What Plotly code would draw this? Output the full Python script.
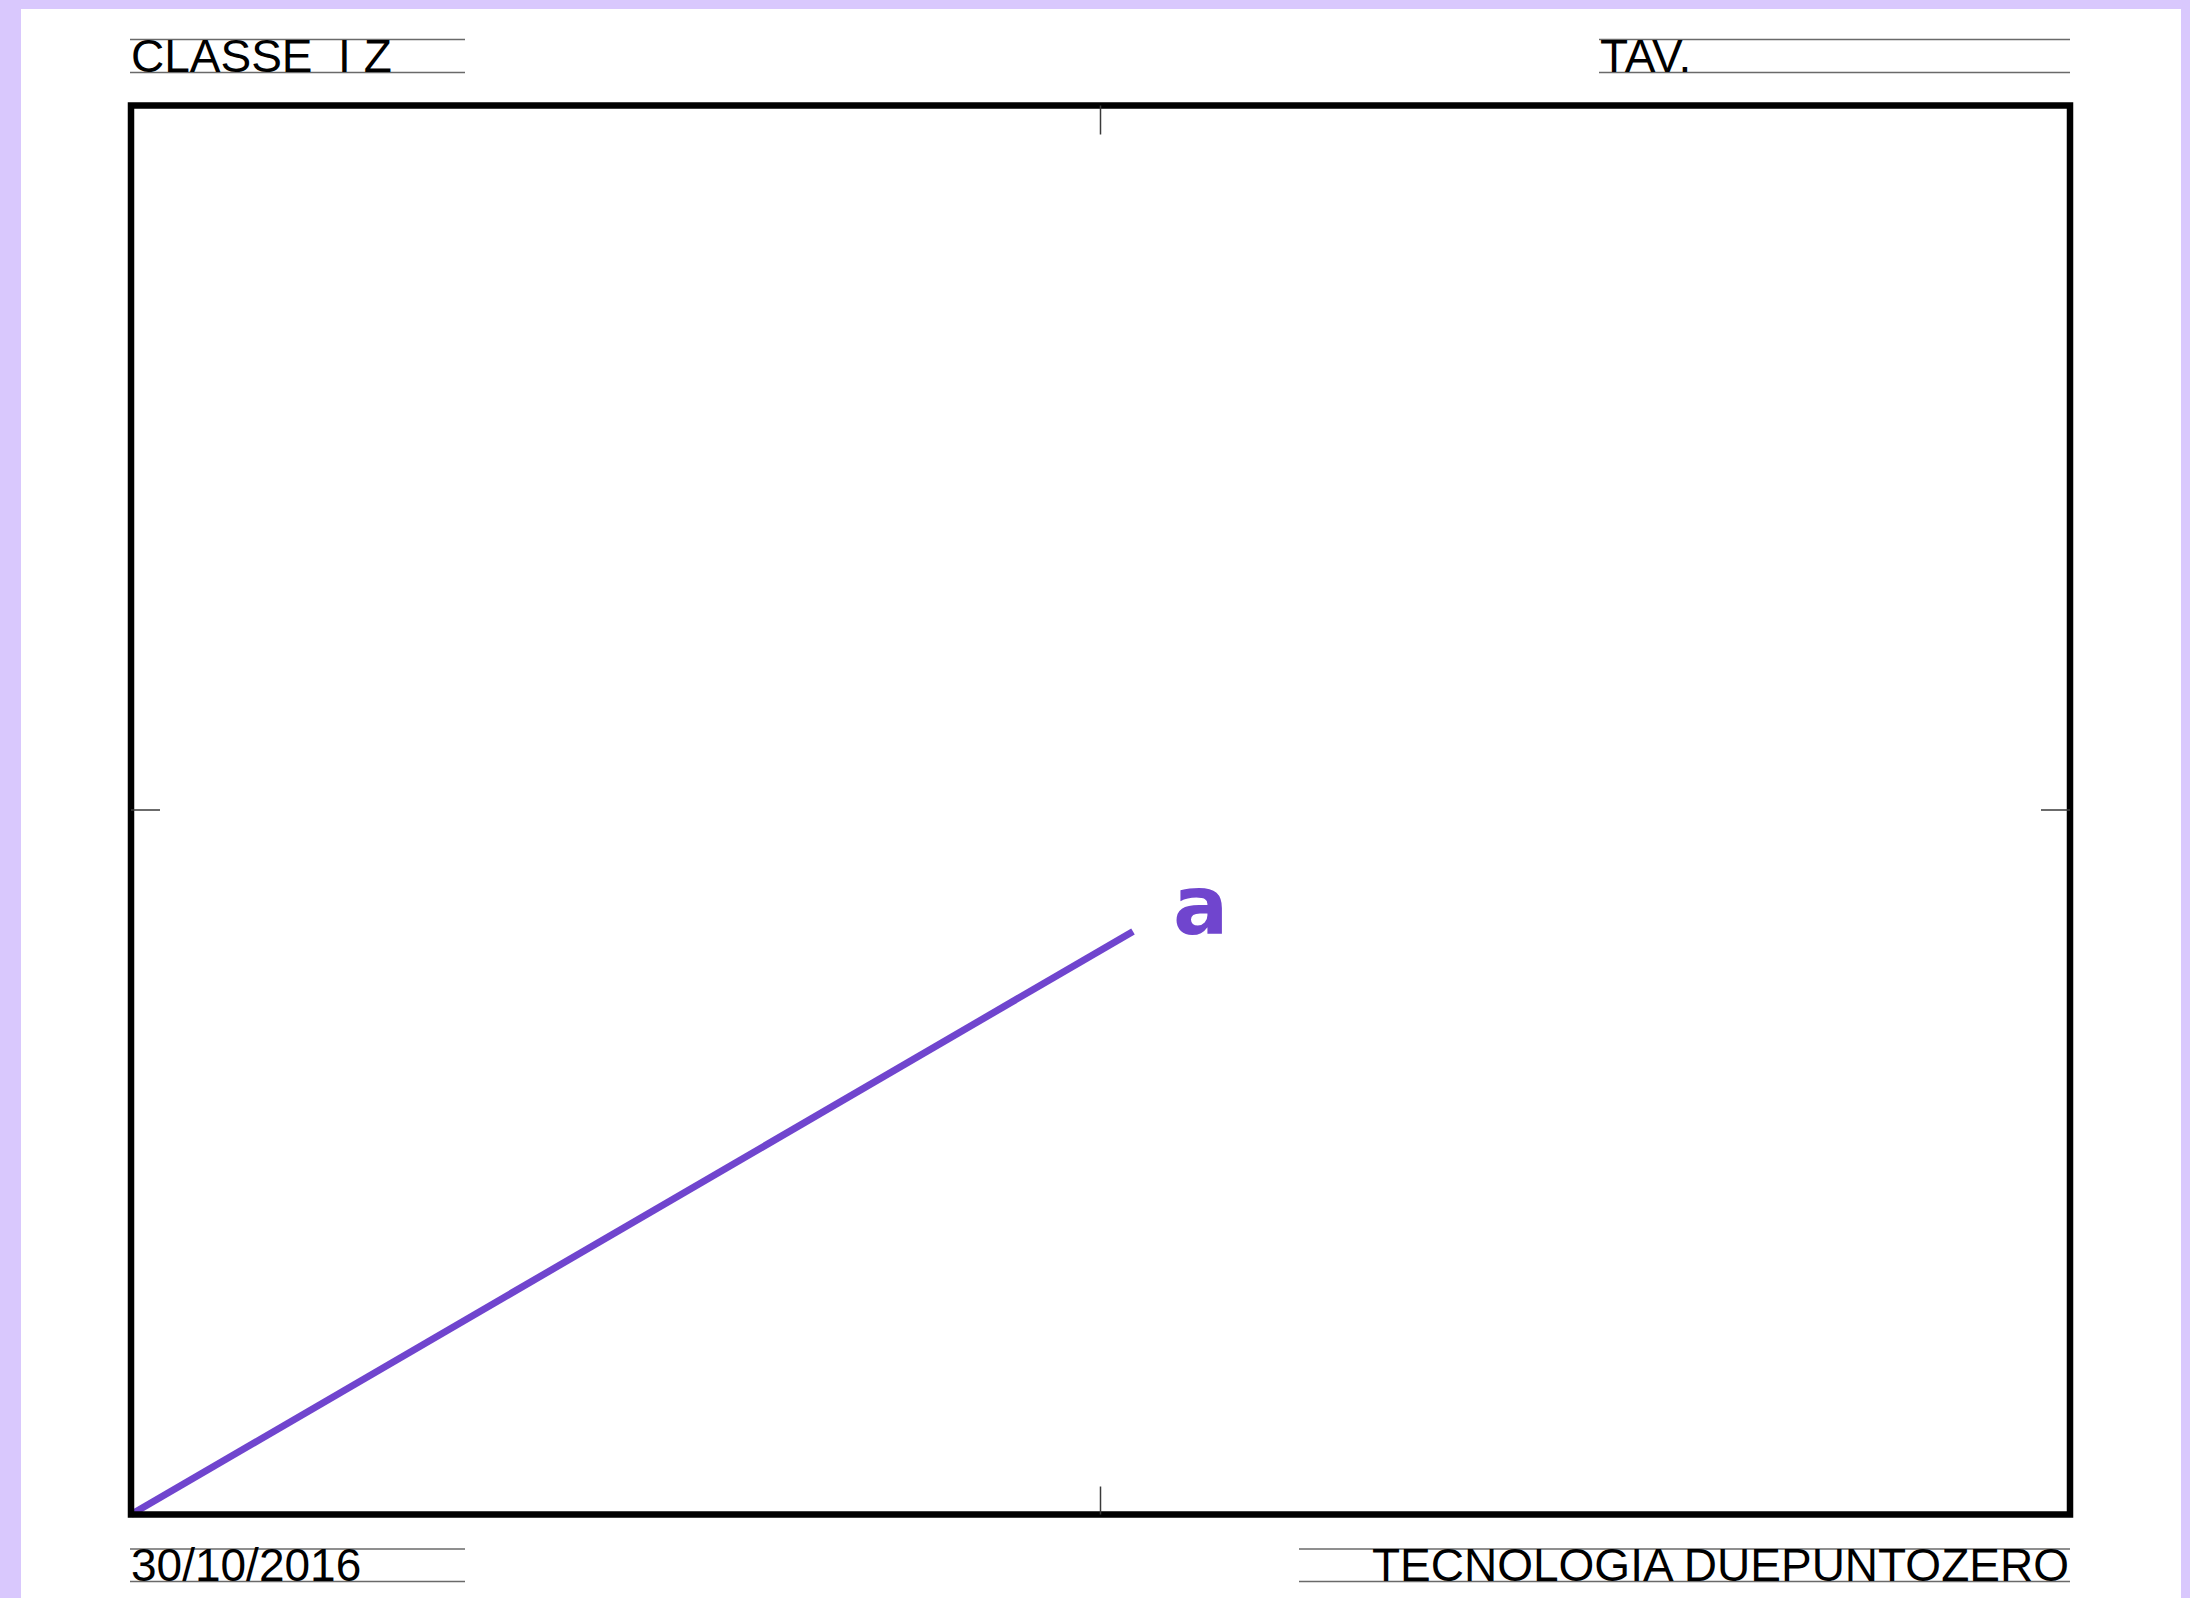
import plotly.graph_objects as go

# segment "a" drawn from the lower-left corner of the sheet frame (units = px)
seg_x = [0, 1002]
seg_y = [0, 583]
seg_label = "a"

# title-block texts
top_left_text = "CLASSE  I Z"
top_right_text = "TAV."
bottom_left_text = "30/10/2016"
bottom_right_text = "TECNOLOGIA DUEPUNTOZERO"

PURPLE = "#7045CE"
LAVENDER = "#D9C8FD"
W, H = 2190, 1598
frame_w, frame_h = 1939, 1409
ox, oy = 131, 1514.5  # pixel position of the frame origin

fig = go.Figure()

fig.add_trace(
    go.Scatter(
        x=seg_x,
        y=seg_y,
        mode="lines",
        line=dict(color=PURPLE, width=7),
        hoverinfo="skip",
        showlegend=False,
    )
)

shapes = []
# sheet frame
shapes.append(dict(type="rect", x0=0, y0=0, x1=frame_w, y1=frame_h,
                   line=dict(color="black", width=6.5), layer="above"))
# centring marks
tick = dict(color="#3a3a3a", width=1.5)
shapes.append(dict(type="line", x0=0, x1=29, y0=frame_h / 2, y1=frame_h / 2, line=tick))
shapes.append(dict(type="line", x0=frame_w - 29, x1=frame_w, y0=frame_h / 2, y1=frame_h / 2, line=tick))
shapes.append(dict(type="line", x0=frame_w / 2, x1=frame_w / 2, y0=frame_h - 29, y1=frame_h, line=tick))
shapes.append(dict(type="line", x0=frame_w / 2, x1=frame_w / 2, y0=0, y1=28, line=tick))

# writing lines of the title blocks
guide = dict(color="#6a6a6a", width=1.3)
blocks = [
    (-1, 334, frame_h + 33, frame_h + 66),
    (1468, frame_w, frame_h + 33, frame_h + 66),
    (-1, 334, -67, -34.5),
    (1168, frame_w, -67, -34.5),
]
for x0, x1, ya, yb in blocks:
    shapes.append(dict(type="line", x0=x0, x1=x1, y0=ya, y1=ya, line=guide))
    shapes.append(dict(type="line", x0=x0, x1=x1, y0=yb, y1=yb, line=guide))

hfont = dict(family="Liberation Sans, Arial", size=46, color="black")
annotations = [
    dict(x=-1, y=frame_h + 50, text=top_left_text, xanchor="left"),
    dict(x=1468, y=frame_h + 50, text=top_right_text, xanchor="left"),
    dict(x=-1, y=-50.5, text=bottom_left_text, xanchor="left"),
    dict(x=frame_w, y=-50.5, text=bottom_right_text, xanchor="right"),
]
for a in annotations:
    a.update(showarrow=False, yanchor="middle", font=hfont, borderpad=0)

annotations.append(
    dict(
        x=seg_x[-1], y=seg_y[-1], text=seg_label,
        showarrow=False, xanchor="center", yanchor="middle",
        xshift=67, yshift=26,
        font=dict(family="DejaVu Sans", size=82, color=PURPLE, weight="bold"),
    )
)

fig.update_layout(
    width=W,
    height=H,
    margin=dict(l=21, r=9, t=9, b=0),
    paper_bgcolor=LAVENDER,
    plot_bgcolor="white",
    shapes=shapes,
    annotations=annotations,
    xaxis=dict(range=[21 - ox, W - 9 - ox], visible=False, fixedrange=True),
    yaxis=dict(range=[oy - H, oy - 9], visible=False, fixedrange=True),
    showlegend=False,
)

fig.write_html(
    "out.html",
    config={"displayModeBar": False},
    post_script="document.body.style.margin = '0';",
)
